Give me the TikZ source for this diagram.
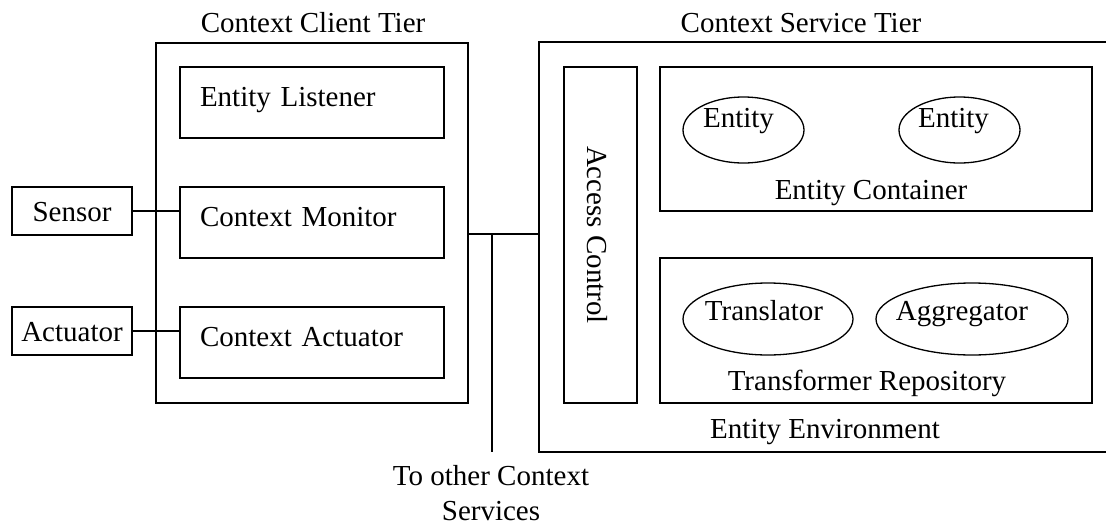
\documentclass[tikz,border=0pt]{standalone}
\usepackage{fontspec}
\setmainfont{Liberation Serif}
\usetikzlibrary{shapes, positioning}

\begin{document}
\begin{tikzpicture}[x=1pt, y=-1pt, line width=1.8pt,
    every node/.style={font=\fontsize{29}{35}\selectfont, inner sep=0pt},
    tier/.style={draw, rectangle},
    part/.style={draw, rectangle, text width=224pt, inner xsep=20pt, align=left,
      minimum height=71pt, text height=20pt, text depth=13pt},
    device/.style={draw, rectangle, minimum width=120pt, minimum height=48pt,
      text height=21pt, text depth=0pt},
    pool/.style={draw, rectangle, minimum width=432pt},
    blob/.style={draw, ellipse, line width=1.3pt},
    tag/.style={text height=20pt, text depth=6pt}]
  \useasboundingbox (0,0) rectangle (1106,525);

  % titles
  \node[anchor=base] (clienttitle) at (313,32) {Context Client Tier};
  \node[anchor=base] (servicetitle) at (801,32) {Context Service Tier};

  % client tier
  \node[tier, minimum width=312pt, minimum height=360pt] (client) at (312,223) {};
  \node[part] (listener) at (312,102.5) {Entity Listener};
  \node[part] (monitor) at (312,222.5) {Context Monitor};
  \node[part] (cactuator) at (312,342.5) {Context Actuator};
  \node[device] (sensor) at (72,211) {Sensor};
  \node[device] (actuator) at (72,331) {Actuator};

  % service tier
  \node[minimum width=566pt, minimum height=408pt] (service) at (823,247) {};
  \node[tier, rotate=-90, minimum width=336pt, minimum height=73pt,
    text height=26pt, text depth=0pt] (access) at (600.5,235) {Access Control};
  \node[pool, minimum height=144pt] (container) at (876,139) {};
  \node[pool, minimum height=145pt] (repository) at (876,330.5) {};
  \node[blob, minimum width=121pt, minimum height=66pt,
    label={[tag, xshift=-5pt, yshift=10pt]center:Entity}] (entitya) at (743.5,130) {};
  \node[blob, minimum width=121pt, minimum height=66pt,
    label={[tag, xshift=-6pt, yshift=10pt]center:Entity}] (entityb) at (959.5,130) {};
  \node[blob, minimum width=170pt, minimum height=72pt,
    label={[tag, xshift=-4pt, yshift=6pt]center:Translator}] (translator) at (768,319) {};
  \node[blob, minimum width=192pt, minimum height=72pt,
    label={[tag, xshift=-10pt, yshift=6pt]center:Aggregator}] (aggregator) at (972,319) {};
  \node[anchor=base] (containerlabel) at (871,199) {Entity Container};
  \node[anchor=base] (repositorylabel) at (867,390) {Transformer Repository};
  \node[anchor=base] (environmentlabel) at (825,438) {Entity Environment};

  \coordinate (hub) at (492,234);
  \node[anchor=north, align=center] (others) at (491,464) {To other Context\\Services};

  \draw (sensor.east) -- (sensor.east -| monitor.west);
  \draw (actuator.east) -- (actuator.east -| cactuator.west);
  \draw (client.east |- hub) -- (service.west |- hub);
  \draw (hub) -- (hub |- service.south);
  \draw (service.north east) -| (service.south west) -- (service.south east);
\end{tikzpicture}
\end{document}
